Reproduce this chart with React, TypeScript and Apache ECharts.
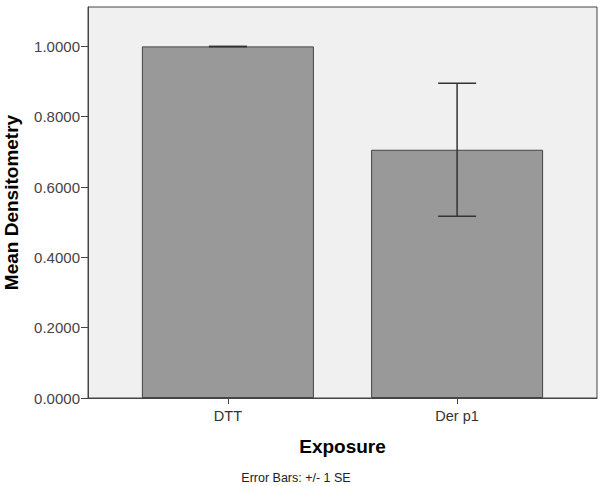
import React, { useEffect, useRef } from "react";
import * as echarts from "echarts";

const categories = ["DTT", "Der p1"];
const means = [1.0, 0.706];
const standardErrors = [0.0, 0.189];
const yTicks = [0, 0.2, 0.4, 0.6, 0.8, 1.0];

export default function App() {
  const ref = useRef<HTMLDivElement>(null);
  useEffect(() => {
    const chart = echarts.init(ref.current!, null, { renderer: "svg" });
    const font = "Arial, 'Liberation Sans', sans-serif";
    const positions = categories.map((_, i) => i);
    chart.setOption({
      animation: false,
      backgroundColor: "#ffffff",
      grid: {
        left: 88,
        right: 7,
        top: 7,
        bottom: 88,
        containLabel: false,
        outerBoundsMode: "none",
        show: true,
        backgroundColor: "#f0f0f0",
        borderColor: "#444444",
        borderWidth: 1,
      },
      xAxis: {
        type: "value",
        min: -0.6104,
        max: 1.6104,
        name: "Exposure",
        nameLocation: "middle",
        nameGap: 39,
        nameTextStyle: { fontFamily: font, fontSize: 19, fontWeight: "bold", color: "#000" },
        axisLine: { show: true, onZero: false, lineStyle: { color: "#444", width: 1 } },
        axisTick: { show: true, length: 6, customValues: positions, lineStyle: { color: "#444" } },
        axisLabel: {
          customValues: positions,
          formatter: (v: number) => categories[Math.round(v)] ?? "",
          fontFamily: font,
          fontSize: 14.5,
          color: "#333",
          margin: 10,
        },
        splitLine: { show: false },
      },
      yAxis: {
        type: "value",
        min: 0,
        max: 1.112,
        name: "Mean Densitometry",
        nameLocation: "middle",
        nameGap: 67,
        nameTextStyle: { fontFamily: font, fontSize: 19, fontWeight: "bold", color: "#000" },
        axisLine: { show: true, onZero: false, lineStyle: { color: "#444", width: 1 } },
        axisTick: { show: true, length: 7, customValues: yTicks, lineStyle: { color: "#444" } },
        axisLabel: {
          customValues: yTicks,
          formatter: (v: number) => v.toFixed(4),
          fontFamily: font,
          fontSize: 15,
          color: "#444",
          margin: 8,
        },
        splitLine: { show: false },
      },
      series: [
        {
          type: "bar",
          data: positions.map((p, i) => [p, means[i]]),
          barWidth: 172,
          itemStyle: { color: "#999999", borderColor: "#444444", borderWidth: 1 },
        },
        {
          type: "custom",
          data: positions.map((p, i) => [p, means[i] - standardErrors[i], means[i] + standardErrors[i]]),
          renderItem: (params: any, api: any) => {
            const x = api.value(0);
            const lo = api.coord([x, api.value(1)]);
            const hi = api.coord([x, api.value(2)]);
            const half = 19;
            const style = { stroke: "#333333", lineWidth: 1.5 };
            return {
              type: "group",
              children: [
                { type: "line", shape: { x1: hi[0], y1: hi[1], x2: lo[0], y2: lo[1] }, style },
                { type: "line", shape: { x1: hi[0] - half, y1: hi[1], x2: hi[0] + half, y2: hi[1] }, style },
                { type: "line", shape: { x1: lo[0] - half, y1: lo[1], x2: lo[0] + half, y2: lo[1] }, style },
              ],
            };
          },
          z: 5,
        },
      ],
      graphic: [
        {
          type: "text",
          x: 296,
          y: 478,
          style: {
            text: "Error Bars: +/- 1 SE",
            fontFamily: font,
            fontSize: 12.5,
            fill: "#222",
            align: "center",
            verticalAlign: "middle",
          },
        },
      ],
    });
    return () => chart.dispose();
  }, []);
  return <div ref={ref} style={{ width: 604, height: 486, position: "absolute", left: 0, top: 0 }} />;
}
